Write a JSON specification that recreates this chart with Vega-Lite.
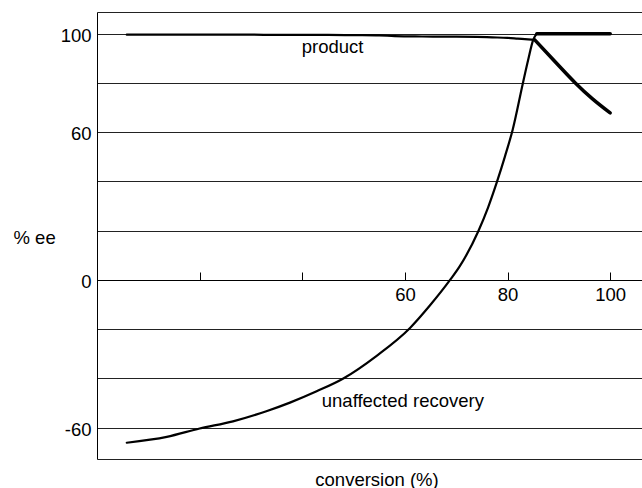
{
  "$schema": "https://vega.github.io/schema/vega-lite/v6.json",
  "width": 545,
  "height": 447,
  "autosize": {"type": "none"},
  "padding": {"left": 97, "top": 12, "right": 0, "bottom": 29},
  "background": "white",
  "config": {
    "view": {"stroke": null},
    "font": "Liberation Sans",
    "axis": {"labelFont": "Liberation Sans", "titleFont": "Liberation Sans"}
  },
  "datasets": {
    "curves": [
      {"series": "product", "phase": "pre", "conv": 5.8, "ee": 99.6},
      {"series": "product", "phase": "pre", "conv": 10, "ee": 99.6},
      {"series": "product", "phase": "pre", "conv": 15, "ee": 99.6},
      {"series": "product", "phase": "pre", "conv": 20, "ee": 99.6},
      {"series": "product", "phase": "pre", "conv": 25, "ee": 99.6},
      {"series": "product", "phase": "pre", "conv": 30, "ee": 99.6},
      {"series": "product", "phase": "pre", "conv": 35, "ee": 99.5},
      {"series": "product", "phase": "pre", "conv": 40, "ee": 99.5},
      {"series": "product", "phase": "pre", "conv": 45, "ee": 99.5},
      {"series": "product", "phase": "pre", "conv": 50, "ee": 99.4},
      {"series": "product", "phase": "pre", "conv": 55, "ee": 99.3},
      {"series": "product", "phase": "pre", "conv": 58, "ee": 99.0},
      {"series": "product", "phase": "pre", "conv": 62, "ee": 98.9},
      {"series": "product", "phase": "pre", "conv": 66, "ee": 98.8},
      {"series": "product", "phase": "pre", "conv": 70, "ee": 98.8},
      {"series": "product", "phase": "pre", "conv": 74, "ee": 98.7},
      {"series": "product", "phase": "pre", "conv": 77, "ee": 98.5},
      {"series": "product", "phase": "pre", "conv": 80, "ee": 98.3},
      {"series": "product", "phase": "pre", "conv": 82, "ee": 98.0},
      {"series": "product", "phase": "pre", "conv": 84, "ee": 97.7},
      {"series": "product", "phase": "pre", "conv": 85.3, "ee": 97.5},
      {"series": "product", "phase": "post", "conv": 85.3, "ee": 97.5},
      {"series": "product", "phase": "post", "conv": 89, "ee": 89.2},
      {"series": "product", "phase": "post", "conv": 93.2, "ee": 80.0},
      {"series": "product", "phase": "post", "conv": 96.5, "ee": 73.6},
      {"series": "product", "phase": "post", "conv": 100, "ee": 67.8},
      {"series": "recovery", "phase": "pre", "conv": 5.8, "ee": -66.1},
      {"series": "recovery", "phase": "pre", "conv": 13.6, "ee": -63.7},
      {"series": "recovery", "phase": "pre", "conv": 20, "ee": -60.3},
      {"series": "recovery", "phase": "pre", "conv": 26.5, "ee": -57.4},
      {"series": "recovery", "phase": "pre", "conv": 33, "ee": -53.3},
      {"series": "recovery", "phase": "pre", "conv": 37.6, "ee": -49.8},
      {"series": "recovery", "phase": "pre", "conv": 42.8, "ee": -45.2},
      {"series": "recovery", "phase": "pre", "conv": 48, "ee": -40.0},
      {"series": "recovery", "phase": "pre", "conv": 54.5, "ee": -30.8},
      {"series": "recovery", "phase": "pre", "conv": 61, "ee": -19.5},
      {"series": "recovery", "phase": "pre", "conv": 64.9, "ee": -10.3},
      {"series": "recovery", "phase": "pre", "conv": 68.8, "ee": 0},
      {"series": "recovery", "phase": "pre", "conv": 70.7, "ee": 5.6},
      {"series": "recovery", "phase": "pre", "conv": 74.3, "ee": 19.8},
      {"series": "recovery", "phase": "pre", "conv": 76.2, "ee": 29.4},
      {"series": "recovery", "phase": "pre", "conv": 77.9, "ee": 39.6},
      {"series": "recovery", "phase": "pre", "conv": 79.5, "ee": 50.2},
      {"series": "recovery", "phase": "pre", "conv": 81, "ee": 61},
      {"series": "recovery", "phase": "pre", "conv": 83, "ee": 80},
      {"series": "recovery", "phase": "pre", "conv": 84, "ee": 89.2},
      {"series": "recovery", "phase": "pre", "conv": 85, "ee": 97.5},
      {"series": "recovery", "phase": "pre", "conv": 85.7, "ee": 100},
      {"series": "recovery", "phase": "post", "conv": 85.7, "ee": 100},
      {"series": "recovery", "phase": "post", "conv": 100, "ee": 100}
    ],
    "labels": [
      {"text": "product", "conv": 39.9, "ee": 91.95},
      {"text": "unaffected recovery", "conv": 43.8, "ee": -51.7}
    ]
  },
  "layer": [
    {
      "data": {"name": "curves"},
      "mark": {"type": "line", "color": "black", "interpolate": "monotone", "strokeCap": "round", "strokeJoin": "round"},
      "encoding": {
        "x": {
          "field": "conv", "type": "quantitative",
          "scale": {"domain": [0, 106.2], "nice": false, "zero": false},
          "axis": {
            "orient": "bottom",
            "offset": -179,
            "values": [20, 40, 60, 80, 100],
            "labelExpr": "datum.value >= 60 ? datum.label : ''",
            "tickSize": -8,
            "tickColor": "black",
            "tickWidth": 1,
            "domainColor": "black",
            "domainWidth": 1,
            "labelPadding": 13.4,
            "labelFontSize": 18.5,
            "labelColor": "black",
            "labelFlush": false,
            "grid": false,
            "title": "conversion (%)",
            "titleX": 279.5,
            "titleY": 205,
            "titleAlign": "center",
            "titleBaseline": "alphabetic",
            "titleFontWeight": "normal",
            "titleFontSize": 18.5,
            "titleColor": "black"
          }
        },
        "y": {
          "field": "ee", "type": "quantitative",
          "scale": {"domain": [-72.7, 108.8], "nice": false, "zero": false},
          "axis": {
            "orient": "left",
            "values": [-72.7, -60, -40, -20, 0, 20, 40, 60, 80, 100, 108.8],
            "labelExpr": "datum.value == 100 ? '100' : datum.value == 60 ? '60' : datum.value == 0 ? '0' : datum.value == -60 ? '-60' : ''",
            "ticks": false,
            "labelPadding": 6,
            "labelOffset": 1.5,
            "labelFontSize": 18.5,
            "labelColor": "black",
            "labelFlush": false,
            "grid": true,
            "gridColor": "#222222",
            "gridOpacity": 1,
            "gridWidth": 1,
            "domainColor": "black",
            "domainWidth": 1,
            "title": "% ee",
            "titleAngle": 0,
            "titleAlign": "left",
            "titleBaseline": "alphabetic",
            "titleX": -84,
            "titleY": 231,
            "titleFontWeight": "normal",
            "titleFontSize": 18.5,
            "titleColor": "black"
          }
        },
        "detail": {"field": "series"},
        "strokeWidth": {
          "field": "phase", "type": "nominal",
          "scale": {"domain": ["pre", "post"], "range": [2.2, 3.5]},
          "legend": null
        },
        "order": {"field": "conv", "type": "quantitative"}
      }
    },
    {
      "data": {"name": "labels"},
      "mark": {"type": "text", "align": "left", "baseline": "alphabetic", "font": "Liberation Sans", "fontSize": 18.5, "color": "black"},
      "encoding": {
        "x": {"field": "conv", "type": "quantitative"},
        "y": {"field": "ee", "type": "quantitative"},
        "text": {"field": "text"}
      }
    }
  ]
}
